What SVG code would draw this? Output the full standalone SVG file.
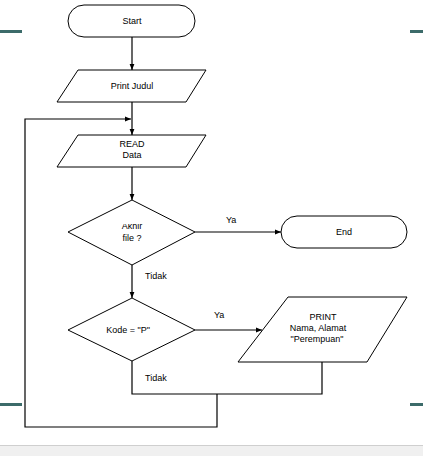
<svg xmlns="http://www.w3.org/2000/svg" width="423" height="456" viewBox="0 0 423 456">
<defs>
<style>
.s{fill:#fff;stroke:#000;stroke-width:1}
.c{fill:none;stroke:#000;stroke-width:1.2}
.t{font-family:"Liberation Sans",Arial,sans-serif;font-size:9px;fill:#000}
.m{text-anchor:middle}
.bar{fill:#3c6b6a}
</style>
<marker id="a" viewBox="0 0 10 10" refX="10" refY="5" markerWidth="6" markerHeight="6" markerUnits="userSpaceOnUse" orient="auto">
<path d="M0,1 L10,5 L0,9 Z" fill="#000"/>
</marker>
<clipPath id="clipAk"><rect x="100" y="224" width="70" height="20"/></clipPath>
</defs>
<rect x="0" y="0" width="423" height="456" fill="#fff"/>
<rect x="0" y="445" width="423" height="11" fill="#f0f0f0"/>
<line x1="0" y1="445.5" x2="423" y2="445.5" stroke="#cfcfcf" stroke-width="1"/>
<rect class="bar" x="0" y="30" width="22" height="3"/>
<rect class="bar" x="410" y="30" width="13" height="3"/>
<rect class="bar" x="0" y="403" width="22" height="3"/>
<rect class="bar" x="410" y="403" width="13" height="3"/>
<g id="connectors">
<line class="c" x1="132" y1="37" x2="132" y2="70" marker-end="url(#a)"/>
<line class="c" x1="132" y1="102" x2="132" y2="135" marker-end="url(#a)"/>
<line class="c" x1="132" y1="167" x2="132" y2="200" marker-end="url(#a)"/>
<line class="c" x1="195" y1="232" x2="281" y2="232" marker-end="url(#a)"/>
<line class="c" x1="132" y1="265" x2="132" y2="298" marker-end="url(#a)"/>
<line class="c" x1="195" y1="330" x2="262" y2="330" marker-end="url(#a)"/>
<polyline class="c" points="132,361 132,394 322,394 322,362"/>
<polyline class="c" points="217,394 217,427 25,427 25,119 131,119" marker-end="url(#a)"/>
<text class="t" x="226" y="223">Ya</text>
<text class="t" x="145" y="279">Tidak</text>
<text class="t" x="214" y="318">Ya</text>
<text class="t" x="145" y="381">Tidak</text>
</g>
<g id="start">
<rect class="s" x="68" y="5" width="127" height="32" rx="16" ry="16"/>
<text class="t m" x="132" y="24">Start</text>
</g>
<g id="printJudul">
<polygon class="s" points="78,70 206,70 186,102 57,102"/>
<text class="t m" x="132" y="89">Print Judul</text>
</g>
<g id="readData">
<polygon class="s" points="78,135 206,135 186,167 57,167"/>
<text class="t m" x="132" y="147">READ</text>
<text class="t m" x="132" y="158">Data</text>
</g>
<g id="akhirFile">
<polygon class="s" points="132,200 195,232 132,265 68,232"/>
<text class="t m" x="132" y="229" clip-path="url(#clipAk)">Akhir</text>
<text class="t m" x="132" y="241">file ?</text>
</g>
<g id="end">
<rect class="s" x="281" y="216" width="126" height="32" rx="16" ry="16"/>
<text class="t m" x="344" y="235">End</text>
</g>
<g id="kode">
<polygon class="s" points="132,298 195,330 132,361 68,330"/>
<text class="t m" x="128" y="333">Kode = "P"</text>
</g>
<g id="printPerempuan">
<polygon class="s" points="288,297 407,297 367,362 238,362"/>
<text class="t m" x="323" y="320">PRINT</text>
<text class="t m" x="318" y="331">Nama, Alamat</text>
<text class="t m" x="317" y="342">"Perempuan"</text>
</g>
</svg>
